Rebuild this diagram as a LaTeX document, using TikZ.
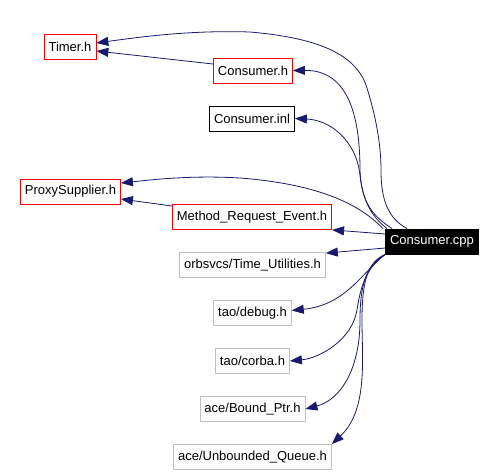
\documentclass[tikz,border=0pt]{standalone}
\usepackage{fontspec}
\setmainfont{Liberation Sans}
\usetikzlibrary{arrows.meta}
\definecolor{edgeblue}{HTML}{191970}
\definecolor{boxgray}{HTML}{BFBFBF}
\tikzset{%
  >={Triangle[length=12pt, width=9pt]}, % filled arrow heads
  % plain header box
  filebox/.style={rectangle, draw, line width=0.8pt, inner xsep=4.5pt, inner ysep=0pt,
    minimum height=25pt, font=\fontsize{13}{15}\selectfont},
  % header with red border
  redbox/.style={filebox, draw=red},
  % header with gray border
  graybox/.style={filebox, draw=boxgray},
  % the file the graph is about
  rootbox/.style={filebox, fill=black, text=white},
  % include relation
  incl/.style={->, draw=edgeblue, fill=none, line width=0.8pt},
}
\begin{document}
\begin{tikzpicture}[x=1pt, y=-1pt]
  \useasboundingbox (0,0) rectangle (496,475);
  \node[redbox] (timer) at (70,46.5) {Timer.h};
  \node[redbox] (conh) at (253,70.5) {Consumer.h};
  \node[filebox] (inl) at (252,118.5) {Consumer.inl};
  \node[redbox] (proxy) at (70.5,191.5) {ProxySupplier.h};
  \node[redbox] (method) at (252,217) {Method\_Request\_Event.h};
  \node[rootbox] (cpp) at (432,241.5) {Consumer.cpp};
  % gray headers, one below the other
  \foreach \name/\txt [count=\i from 0] in {tu/{orbsvcs/Time\_Utilities.h}, debug/{tao/debug.h},
      corba/{tao/corba.h}, bptr/{ace/Bound\_Ptr.h}, uqueue/{ace/Unbounded\_Queue.h}} {
    \node[graybox] (\name) at (252.5,265+48*\i) {\txt};
  }

  % edges going up
  \draw[incl] ([xshift=-25pt]cpp.north) .. controls (388,218) and (381,200) .. (381,170)
    .. controls (381,140) and (374,110) .. (366,85)
    .. controls (355,55) and (320,38) .. (250,32)
    .. controls (190,30) and (140,37) .. ([yshift=3.5pt]timer.east);
  \draw[incl] ([xshift=-40pt]cpp.north) .. controls (375,217) and (361,205) .. (360,170)
    .. controls (360,100) and (340,70) .. (conh.east);
  \draw[incl] ([xshift=-45pt]cpp.north) .. controls (370,215) and (363,200) .. (360,175)
    .. controls (356,140) and (330,120) .. (inl.east);
  \draw[incl] ([xshift=-49pt]cpp.north) .. controls (365,210) and (330,185) .. (240,178)
    .. controls (190,175) and (150,180) .. ([yshift=8.5pt]proxy.east);
  \draw[incl] ([yshift=7.5pt]cpp.west) -- (method.south east);
  \draw[incl] ([yshift=6.5pt]conh.west) -- ([yshift=-4.5pt]timer.east);
  \draw[incl] ([yshift=11pt]method.west) -- ([yshift=-7.5pt]proxy.east);
  % edges going down
  \draw[incl] ([yshift=-6.5pt]cpp.west) -- ([yshift=-1pt]tu.north east);
  \draw[incl] (cpp.south west) .. controls (360,275) and (345,305) .. ([yshift=2.5pt]debug.east);
  \draw[incl] (cpp.south west) .. controls (365,268) and (360,290) .. (357,310)
    .. controls (352,340) and (320,358) .. (corba.east);
  \draw[incl] (cpp.south west) .. controls (366,265) and (360,285) .. (360,320)
    .. controls (360,370) and (340,400) .. (bptr.east);
  \draw[incl] (cpp.south west) .. controls (368,262) and (362,280) .. (362,320)
    .. controls (362,360) and (368,410) .. (uqueue.north east);
\end{tikzpicture}
\end{document}
